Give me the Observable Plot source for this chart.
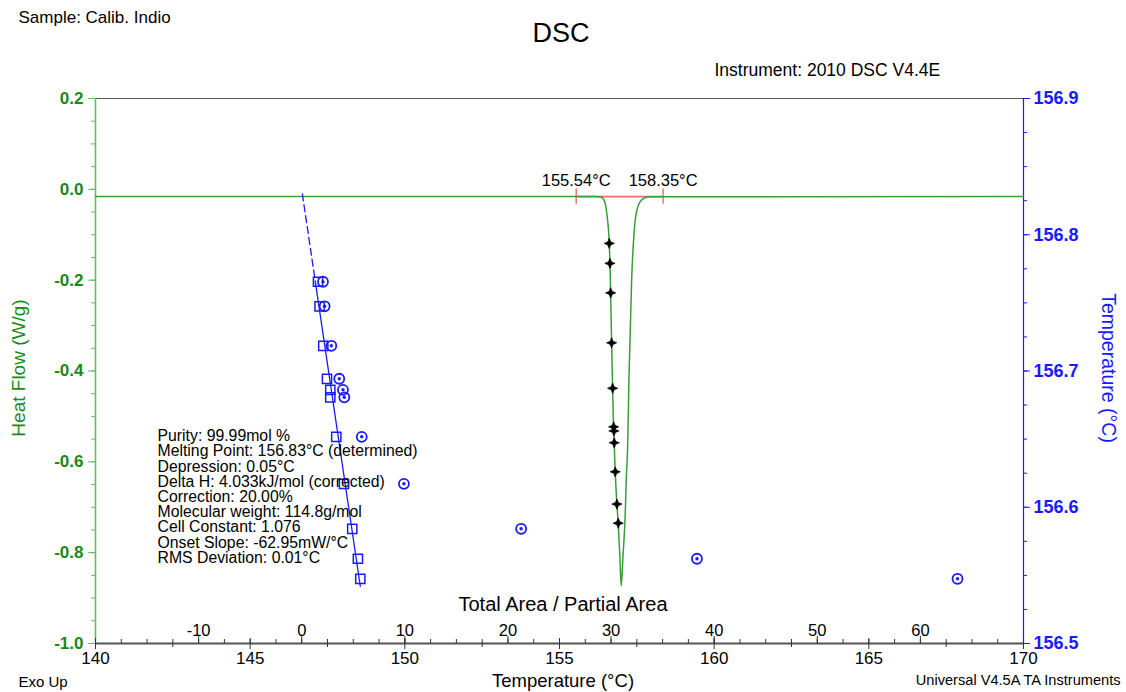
<!DOCTYPE html>
<html>
<head>
<meta charset="utf-8">
<script src="https://cdn.jsdelivr.net/npm/d3@7"></script>
<script src="https://cdn.jsdelivr.net/npm/@observablehq/plot@0.6"></script>
<style>
  html, body { margin: 0; padding: 0; background: #fff; }
  #chart { position: relative; width: 1126px; height: 692px; }
</style>
</head>
<body>
<div id="chart"></div>
<script>
// ---- Data ----
// DSC heat-flow curve (temperature °C, heat flow W/g)
const curveT  = [140, 156.20, 156.34, 156.45, 156.53, 156.608, 156.631, 156.653, 156.685, 156.718, 156.750, 156.760, 156.769, 156.801, 156.856, 156.898, 156.953, 156.995, 157.050, 157.125, 157.157, 157.202, 157.244, 157.331, 157.415, 157.525, 157.686, 157.899, 170];
const curveHF = [-0.016, -0.016, -0.017, -0.025, -0.054, -0.119, -0.163, -0.228, -0.338, -0.438, -0.523, -0.532, -0.558, -0.622, -0.693, -0.735, -0.811, -0.873, -0.811, -0.715, -0.642, -0.569, -0.422, -0.2015, -0.0914, -0.040, -0.0216, -0.0165, -0.016];

// Partial-area points marked on the melting curve
const starT  = [156.608, 156.631, 156.653, 156.685, 156.718, 156.750, 156.760, 156.769, 156.801, 156.856, 156.898];
const starHF = [-0.119, -0.163, -0.228, -0.338, -0.438, -0.523, -0.532, -0.558, -0.622, -0.693, -0.735];

// Purity plot: sample temperature (right axis) vs Total Area / Partial Area
const ptTemp    = [156.7655, 156.7475, 156.7185, 156.6943, 156.6862, 156.6807, 156.6517, 156.6172, 156.5842, 156.5622, 156.5475];
const corrArea  = [1.58, 1.73, 2.09, 2.45, 2.77, 2.77, 3.35, 4.10, 4.90, 5.45, 5.68];   // squares (corrected)
const rawArea   = [2.06, 2.22, 2.87, 3.64, 4.00, 4.13, 5.82, 9.91, 21.28, 38.33, 63.60]; // circled dots (raw)

// Fitted line (dashed extrapolation to 1/F = 0, then solid)
const fitDashArea = [0.06, 1.35];
const fitDashTemp = [156.830, 156.764];
const fitArea = [1.35, 5.68];
const fitTemp = [156.764, 156.542];

// Integration limits
const limitT = [155.54, 158.35];
const baselineHF = -0.016;

// Axes
const tempDomain = [140, 170];
const hfDomain = [-1.0, 0.2];
const rightDomain = [156.5, 156.9];
const areaDomain = [-20, 70];
const tempTicks = [140, 145, 150, 155, 160, 165, 170];
const tempMinor = [142.5, 147.5, 152.5, 157.5, 162.5, 167.5];
const hfTicks = [0.2, 0.0, -0.2, -0.4, -0.6, -0.8, -1.0];
const hfMinor = d3.range(-1.0, 0.2001, 0.05);
const rightTicks = [156.5, 156.6, 156.7, 156.8, 156.9];
const rightMinor = d3.range(156.5, 156.9001, 0.025);
const areaTicks = [-10, 0, 10, 20, 30, 40, 50, 60];
const areaMinor = d3.range(-20, 70.01, 2.5);

const infoLines = [
  "Purity: 99.99mol %",
  "Melting Point: 156.83°C (determined)",
  "Depression: 0.05°C",
  "Delta H: 4.033kJ/mol (corrected)",
  "Correction: 20.00%",
  "Molecular weight: 114.8g/mol",
  "Cell Constant: 1.076",
  "Onset Slope: -62.95mW/°C",
  "RMS Deviation: 0.01°C"
];

// ---- Secondary-scale converters (into the primary x / y scales) ----
const areaToT = d3.scaleLinear().domain(areaDomain).range(tempDomain);
const rightToHF = d3.scaleLinear().domain(rightDomain).range(hfDomain);

const curve = curveT.map((t, i) => ({t, hf: curveHF[i]}));
const stars = starT.map((t, i) => ({t, hf: starHF[i]}));
const pts = ptTemp.map((T, i) => ({sq: areaToT(corrArea[i]), raw: areaToT(rawArea[i]), hf: rightToHF(T)}));
const fitDash = fitDashArea.map((a, i) => ({x: areaToT(a), y: rightToHF(fitDashTemp[i])}));
const fitSolid = fitArea.map((a, i) => ({x: areaToT(a), y: rightToHF(fitTemp[i])}));

const star4 = {
  draw(context, size) {
    const r = Math.sqrt(size / Math.PI);
    const a = r, b = r * 0.3;
    context.moveTo(0, -a);
    context.lineTo(b, -b);
    context.lineTo(a, 0);
    context.lineTo(b, b);
    context.lineTo(0, a);
    context.lineTo(-b, b);
    context.lineTo(-a, 0);
    context.lineTo(-b, -b);
    context.closePath();
  }
};

const GREEN_TXT = "#188a18";
const GREEN_AX = "#66bb66";
const GREEN_LINE = "#3a9d3a";
const BLUE = "#1a1aff";
const FONT = "'Liberation Sans', Arial, sans-serif";

const plot = Plot.plot({
  width: 1126,
  height: 692,
  marginLeft: 95,
  marginRight: 103,
  marginTop: 98,
  marginBottom: 49,
  style: {fontFamily: FONT, fontSize: "15px", background: "#fff", color: "#000", overflow: "visible"},
  x: {domain: tempDomain},
  y: {domain: hfDomain},
  marks: [
    // frame lines
    Plot.ruleY([hfDomain[1]], {stroke: "#555", strokeWidth: 1.2}),
    Plot.ruleY([hfDomain[0]], {stroke: "#555", strokeWidth: 1.8}),
    Plot.ruleX([tempDomain[0]], {stroke: GREEN_AX, strokeWidth: 1.6}),
    Plot.ruleX([tempDomain[1]], {stroke: BLUE, strokeWidth: 1.2}),

    // left axis (heat flow)
    Plot.axisY({anchor: "left", ticks: hfTicks, tickSize: 7, tickPadding: 5, stroke: GREEN_AX, fill: GREEN_TXT,
      fontSize: 17, fontWeight: "bold", tickFormat: d => d.toFixed(1), label: null}),
    Plot.axisY({anchor: "left", ticks: hfMinor, tickSize: 4, stroke: GREEN_AX, tickFormat: () => "", label: null}),

    // right axis (temperature)
    Plot.axisY({anchor: "right", ticks: rightTicks.map(rightToHF), tickSize: 6, tickPadding: 4, stroke: BLUE, fill: BLUE,
      fontSize: 18, fontWeight: "bold", tickFormat: d => rightToHF.invert(d).toFixed(1), label: null}),
    Plot.axisY({anchor: "right", ticks: rightMinor.map(rightToHF), tickSize: 3, stroke: BLUE, tickFormat: () => "", label: null}),

    // bottom axis (temperature)
    Plot.axisX({anchor: "bottom", ticks: tempTicks, tickSize: 6, tickPadding: 2, stroke: "#333", fill: "#000",
      fontSize: 17, tickFormat: d => String(d), label: null}),
    Plot.axisX({anchor: "bottom", ticks: tempTicks, tickSize: -5, stroke: "#333", tickFormat: () => "", label: null}),
    Plot.axisX({anchor: "bottom", ticks: tempMinor, tickSize: 4, stroke: "#333", tickFormat: () => "", label: null}),

    // inner axis (Total Area / Partial Area)
    Plot.axisX({anchor: "bottom", ticks: areaMinor.map(areaToT), tickSize: -4, stroke: "#333", tickFormat: () => "", label: null}),
    Plot.axisX({anchor: "bottom", ticks: areaTicks.map(areaToT), tickSize: -7, stroke: "#333", tickFormat: () => "", label: null}),
    Plot.text(areaTicks, {x: d => areaToT(d), frameAnchor: "bottom", lineAnchor: "middle", dy: -13, text: d => String(d), fontSize: 16.5, fill: "#000"}),

    // integration limits
    Plot.ruleY([baselineHF], {x1: limitT[0], x2: limitT[1], stroke: "#f06a6a", strokeWidth: 1.6}),
    Plot.ruleX(limitT, {y1: baselineHF + 0.017, y2: baselineHF - 0.017, stroke: "#f06a6a", strokeWidth: 1.4}),
    Plot.text(limitT, {x: d => d, y: baselineHF, dy: -16, lineAnchor: "middle", text: d => d.toFixed(2) + "°C", fontSize: 16.5, fill: "#000"}),

    // DSC curve
    Plot.line(curve, {x: "t", y: "hf", stroke: GREEN_LINE, strokeWidth: 1.5, curve: "monotone-x"}),
    Plot.dot(stars, {x: "t", y: "hf", symbol: star4, r: 5.2, fill: "#000", stroke: "#000", strokeWidth: 0.6}),

    // purity plot
    Plot.line(fitDash, {x: "x", y: "y", stroke: BLUE, strokeWidth: 1.3, strokeDasharray: "7,4"}),
    Plot.line(fitSolid, {x: "x", y: "y", stroke: BLUE, strokeWidth: 1.3}),
    Plot.dot(pts, {x: "sq", y: "hf", symbol: "square", r: 5.2, stroke: BLUE, strokeWidth: 1.5, fill: "none"}),
    Plot.dot(pts, {x: "raw", y: "hf", symbol: "circle", r: 5, stroke: BLUE, strokeWidth: 1.8, fill: "none"}),
    Plot.dot(pts, {x: "raw", y: "hf", symbol: "circle", r: 1.7, fill: BLUE, stroke: "none"}),

    // info block
    Plot.text([infoLines.join("\n")], {frameAnchor: "top-left", dx: 62, dy: 332, lineAnchor: "top", textAnchor: "start",
      lineHeight: 0.962, fontSize: 15.8, fill: "#000"}),

    // titles & labels
    Plot.text(["Sample: Calib. Indio"], {frameAnchor: "top-left", lineAnchor: "middle", dx: -77, dy: -81, textAnchor: "start", fontSize: 17, fill: "#000"}),
    Plot.text(["DSC"], {frameAnchor: "top", lineAnchor: "middle", dx: 1.5, dy: -65, fontSize: 27, fill: "#000"}),
    Plot.text(["Instrument: 2010 DSC V4.4E"], {frameAnchor: "top-left", lineAnchor: "middle", dx: 619, dy: -28, textAnchor: "start", fontSize: 17.5, fill: "#000"}),
    Plot.text(["Total Area / Partial Area"], {frameAnchor: "bottom", lineAnchor: "middle", dx: 3.5, dy: -39, fontSize: 20, fill: "#000"}),
    Plot.text(["Temperature (°C)"], {frameAnchor: "bottom", lineAnchor: "middle", dx: 3.5, dy: 38, fontSize: 18.5, fill: "#000"}),
    Plot.text(["Exo Up"], {frameAnchor: "bottom-left", lineAnchor: "middle", dx: -77, dy: 39, textAnchor: "start", fontSize: 15, fill: "#000"}),
    Plot.text(["Universal V4.5A TA Instruments"], {frameAnchor: "bottom-right", lineAnchor: "middle", dx: 97, dy: 37, textAnchor: "end", fontSize: 14.6, fill: "#000"}),
    Plot.text(["Heat Flow (W/g)"], {frameAnchor: "left", lineAnchor: "middle", textAnchor: "middle", dx: -77, dy: -3, rotate: -90, fontSize: 19, fill: GREEN_TXT}),
    Plot.text(["Temperature (°C)"], {frameAnchor: "right", lineAnchor: "middle", textAnchor: "middle", dx: 85, dy: -3, rotate: 90, fontSize: 19.5, fill: BLUE})
  ]
});

document.getElementById("chart").appendChild(plot);
</script>
</body>
</html>
